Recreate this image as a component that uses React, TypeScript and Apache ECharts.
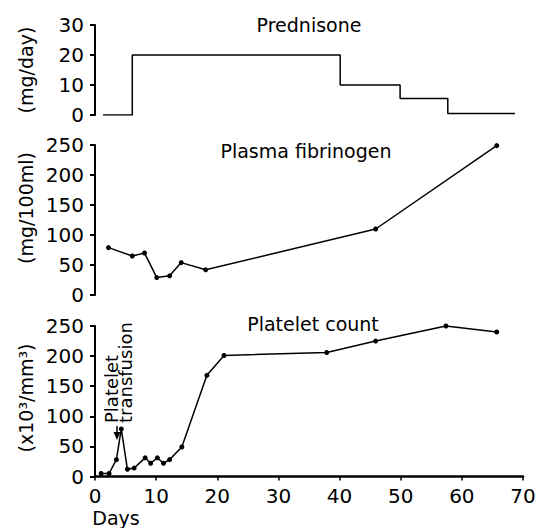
import React, { useEffect, useRef } from "react";
import * as echarts from "echarts";

// Prednisone dose (mg/day), step changes at these days
const prednisoneDays = [1.3, 6.1, 40.1, 49.9, 57.7, 68.7];
const prednisoneDose = [0, 20, 10, 5.5, 0.5, 0.5];

// Plasma fibrinogen (mg/100ml)
const fibrinogenDays = [2.2, 6.1, 8.1, 10.1, 12.2, 14.1, 18.1, 45.9, 65.7];
const fibrinogenValues = [79, 65, 70, 29, 32, 54, 42, 110, 249];

// Platelet count (x10^3/mm^3)
const plateletDays = [1, 2.3, 3.5, 4.3, 5.3, 6.4, 8.2, 9.1, 10.2, 11.2, 12.2, 14.2, 18.3, 21.1, 37.9, 45.9, 57.4, 65.7];
const plateletValues = [5, 5, 28, 79, 12, 14, 31, 22, 31, 22, 28, 49, 168, 201, 206, 225, 250, 240];

const panelTitles = ["Prednisone", "Plasma fibrinogen", "Platelet count"];
const yAxisNames = ["(mg/day)", "(mg/100ml)", "(x10³/mm³)"];
const yMax = [30, 250, 250];
const yInterval = [10, 50, 50];
const xMin = 0;
const xMax = 70;
const xInterval = 10;

const FONT = "DejaVu Sans";

export default function App() {
  const ref = useRef<HTMLDivElement>(null);

  useEffect(() => {
    if (!ref.current) return;
    const chart = echarts.init(ref.current, undefined, { renderer: "svg" });
    const grids = [
      { left: 95, right: 18, top: 25, height: 90 },
      { left: 95, right: 18, top: 145, height: 150 },
      { left: 95, right: 18, top: 326, height: 150.5 },
    ];
    const axisLine = { show: true, lineStyle: { color: "#000", width: 2 } };
    const xAxes = grids.map((_, i) => ({
      type: "value",
      gridIndex: i,
      min: xMin,
      max: xMax,
      interval: xInterval,
      show: i === 2,
      splitLine: { show: false },
      axisLine: { show: true, onZero: false, lineStyle: { color: "#000", width: 2.5 } },
      axisTick: { show: true, length: 4, lineStyle: { color: "#000", width: 1.5 } },
      axisLabel: { color: "#000", fontSize: 20, fontFamily: FONT, margin: 9 },
    }));
    const yAxes = grids.map((_, i) => ({
      type: "value",
      gridIndex: i,
      min: 0,
      max: yMax[i],
      interval: yInterval[i],
      splitLine: { show: false },
      axisLine: { ...axisLine, onZero: false },
      axisTick: { show: true, length: 5, lineStyle: { color: "#000", width: 2 } },
      axisLabel: { color: "#000", fontSize: 20, fontFamily: FONT, margin: 11 },
    }));

    const lineStyle = { color: "#000", width: 1.5 };
    chart.setOption({
      animation: false,
      backgroundColor: "#fff",
      textStyle: { fontFamily: FONT },
      title: panelTitles.map((t, i) => ({
        text: t,
        left: [304, 301, 308][i],
        top: [10, 136, 309][i],
        textAlign: "center",
        textStyle: { fontSize: 19, fontWeight: "normal", color: "#000", fontFamily: FONT },
      })),
      grid: grids,
      xAxis: xAxes,
      yAxis: yAxes,
      series: [
        {
          type: "line",
          xAxisIndex: 0,
          yAxisIndex: 0,
          step: "end",
          symbol: "none",
          lineStyle,
          data: prednisoneDays.map((d, i) => [d, prednisoneDose[i]]),
        },
        {
          type: "line",
          xAxisIndex: 1,
          yAxisIndex: 1,
          symbol: "circle",
          symbolSize: 5,
          itemStyle: { color: "#000" },
          lineStyle,
          data: fibrinogenDays.map((d, i) => [d, fibrinogenValues[i]]),
        },
        {
          type: "line",
          xAxisIndex: 2,
          yAxisIndex: 2,
          symbol: "circle",
          symbolSize: 5,
          itemStyle: { color: "#000" },
          lineStyle,
          data: plateletDays.map((d, i) => [d, plateletValues[i]]),
        },
      ],
      graphic: [
        ...yAxisNames.map((n, i) => ({
          type: "text",
          x: 26,
          y: [70, 208, 398][i],
          rotation: Math.PI / 2,
          style: {
            text: n,
            fontSize: 19,
            fontFamily: FONT,
            fill: "#000",
            textAlign: "center",
            textVerticalAlign: "middle",
          },
        })),
        {
          type: "text",
          x: 116,
          y: 518,
          style: {
            text: "Days",
            fontSize: 19,
            fontFamily: FONT,
            fill: "#000",
            textAlign: "center",
            textVerticalAlign: "middle",
          },
        },
        {
          type: "text",
          x: 111.5,
          y: 423,
          rotation: Math.PI / 2,
          style: {
            text: "Platelet",
            fontSize: 18,
            fontFamily: FONT,
            fill: "#000",
            textAlign: "left",
            textVerticalAlign: "middle",
          },
        },
        {
          type: "text",
          x: 125,
          y: 423,
          rotation: Math.PI / 2,
          style: {
            text: "transfusion",
            fontSize: 18,
            fontFamily: FONT,
            fill: "#000",
            textAlign: "left",
            textVerticalAlign: "middle",
          },
        },
        {
          type: "line",
          shape: { x1: 117, y1: 426, x2: 117, y2: 438 },
          style: { stroke: "#000", lineWidth: 1.5 },
        },
        {
          type: "polygon",
          shape: { points: [[113.5, 432], [120.5, 432], [117, 440]] },
          style: { fill: "#000" },
        },
      ],
    });
    return () => chart.dispose();
  }, []);

  return (
    <div
      ref={ref}
      style={{ position: "fixed", left: 0, top: 0, width: 541, height: 528, background: "#fff" }}
    />
  );
}
